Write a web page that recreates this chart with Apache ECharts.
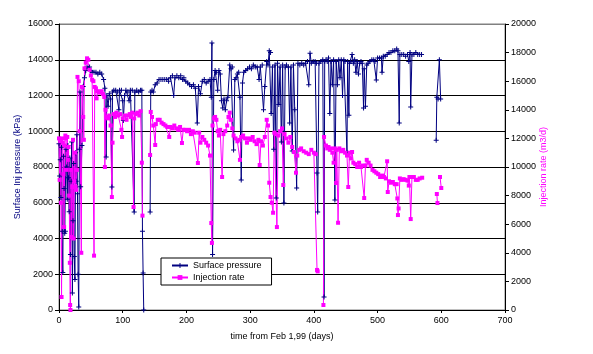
<!DOCTYPE html>
<html>
<head>
<meta charset="utf-8">
<script src="https://cdn.jsdelivr.net/npm/echarts@6/dist/echarts.min.js"></script>
<style>
  html, body { margin: 0; padding: 0; background: #fff; }
  #chart { width: 593px; height: 354px; }
</style>
</head>
<body>
<div id="chart"></div>
<script>
// days since Feb 1,99 -> surface injection pressure (kPa), null = gap in record
const surfacePressure = [
  [0, 9300], [1, 7500], [2, 8400], [3, 6300], [4, 9100], [5, 4400], [6, 2100], [7, 8600], [8, 6800], [9, 4300],
  [10, 4400], [11, 9000], [12, 8000], [13, 6200], [14, 9200], [15, 7400], [16, 5500], [17, 8500], [18, 3100], [19, 7200],
  [20, 9400], [21, 950], [22, 5000], [23, 8200], [24, 3000], [25, 1700], [26, 8800], [27, 7200], [28, 9800], [29, 6500],
  [30, 2000], [31, 170], [32, 9000], [33, 12200], [34, 6900], [36, 9200], [38, 12500], [40, 13000], [42, 13400], [44, 13600],
  [46, 13500], [48, 13600], [50, 13400], [52, 13300], [55, 13300], [58, 13300], [61, 13200], [64, 13300], [67, 13200], [70, 12900],
  [72, 12400], [74, 8560], [75, 12000], [77, 11400], [79, 12100], [81, 11800], [83, 6880], [84, 12200], [86, 12300], [89, 12300],
  [92, 12200], [94, 11200], [95, 12300], [98, 12300], [100, 11700], [101, 10600], [103, 12000], [105, 12300], [108, 12200], [110, 11700],
  [112, 12300], [115, 12300], [118, 5480], [119, 12200], [122, 12300], [125, 12200], [128, 12300], [130, 12300], [131, 4400], [132, 2070],
  [133, 0], [138, null], [143, 5480], [144, 12200], [146, 12300], [148, 12200], [151, 12600], [154, 12700], [157, 12900], [160, 12900],
  [163, 12900], [166, 12900], [169, 12900], [172, 12800], [175, 13000], [178, 13100], [180, 12000], [182, 13000], [185, 13100], [188, 13000],
  [191, 13100], [194, 12900], [196, 13000], [199, 12800], [202, 12700], [205, 12600], [208, 12500], [211, 12600], [214, 12400], [217, 10460],
  [219, 12500], [222, 12100], [225, 12800], [228, 12900], [231, 12700], [234, 12800], [237, 12900], [239, 11900], [240, 14940], [241, 3100],
  [243, 12900], [245, 13400], [247, 13300], [249, 12300], [251, 13400], [253, 13200], [255, 11700], [257, 11300], [259, 11800], [261, 11200],
  [263, 11700], [265, 11900], [268, 13700], [270, 13500], [272, 13600], [274, 8950], [276, 12900], [278, 13000], [280, 13200], [282, 13300],
  [284, 11900], [286, 7270], [288, 12700], [290, 13300], [293, 13400], [296, 13500], [299, 13600], [302, 13500], [305, 13700], [308, 13600],
  [311, 13600], [314, 12900], [316, 13600], [319, 13700], [321, 11200], [323, 12500], [326, 13900], [328, 13700], [330, 14500], [332, 14400],
  [333, 11000], [335, 13600], [337, 9000], [339, 13700], [341, 6270], [343, 13800], [345, 11500], [347, 13600], [349, 9400], [351, 13700],
  [353, 5990], [355, 13600], [357, 13700], [360, 13600], [362, 10460], [364, 13600], [366, 8900], [368, 13700], [370, 11200], [373, 6820],
  [375, 13800], [378, 13700], [381, 13800], [384, 13700], [387, 13800], [390, 13900], [392, 12600], [394, 14370], [396, 13800], [399, 13900],
  [402, 13900], [404, 13800], [405, 7660], [406, 5480], [408, 13800], [411, 13900], [414, 14000], [416, 730], [417, 13900], [419, 14000],
  [421, 13900], [423, 14100], [425, 11000], [427, 13900], [429, 12600], [431, 14000], [433, 6150], [435, 13900], [437, 12600], [439, 14000],
  [441, 13000], [443, 14000], [445, 12000], [447, 14000], [449, 13900], [452, 8800], [453, 13900], [455, 10900], [456, 13800], [458, 13900],
  [460, 14300], [462, 13800], [464, 14000], [466, 13300], [468, 13900], [470, 13200], [472, 13800], [474, 13900], [476, 13800], [478, 11300],
  [479, 13500], [481, 11400], [483, 13700], [485, 13800], [488, 13900], [491, 14000], [494, 14000], [496, 13900], [498, 12870], [500, 14100],
  [503, 14100], [506, 14100], [507, 13300], [509, 14200], [512, 14200], [515, 14300], [518, 14400], [521, 14400], [524, 14500], [527, 14500],
  [530, 14600], [532, 14500], [534, 10460], [535, 14300], [538, 14300], [541, 14300], [544, 14200], [547, 14300], [549, 13900], [551, 14400],
  [552, 11360], [554, 14300], [557, 14300], [560, 14400], [563, 14300], [566, 14300], [569, 14300], [580, null], [592, 9500], [593, 11900],
  [595, 11800], [597, 14000], [599, 11800]
]

// days since Feb 1,99 -> injection rate (m3/d)
const injectionRate = [
  [0, 12000], [1, 9100], [2, 11800], [3, 7500], [4, 910], [5, 12000], [6, 11700], [7, 9500], [8, 5800], [9, 11500],
  [10, 12200], [11, 12000], [12, 9800], [13, 12100], [14, 10500], [15, 11400], [16, 8000], [17, 3300], [17.5, 350], [18, 0],
  [19, 9800], [20, 5100], [21, 8600], [22, 11900], [23, 5000], [24, 9000], [25, 11000], [26, 8600], [27, 8400], [28, 9800],
  [29, 16300], [31, 16000], [33, 12500], [35, 4000], [36, 15600], [38, 13500], [39, 11900], [40, 16900], [42, 17300], [44, 17600],
  [46, 17500], [48, 16800], [50, 16400], [52, 16100], [54, 16000], [55, 3800], [56, 15600], [58, 15500], [59, 14800], [61, 15300],
  [64, 15200], [67, 15300], [69, 15100], [71, 14900], [72, 10000], [73, 14000], [75, 13500], [77, 13400], [79, 13600], [81, 12900],
  [83, 7900], [84, 11700], [86, 13700], [88, 13500], [90, 13800], [93, 13600], [96, 13700], [98, 12600], [99, 12100], [100, 13400],
  [103, 13600], [106, 13300], [108, 13600], [111, 13700], [113, 13500], [115, 13800], [117, 7200], [118, 13400], [120, 13700], [123, 13800],
  [126, 13600], [128, 13900], [130, 10300], [131, 6600], [137, null], [143, 10840], [144, 13850], [146, 13500], [148, 12900], [151, 11540],
  [152, 13000], [155, 13300], [158, 13300], [161, 13100], [164, 13000], [167, 12900], [170, 12800], [173, 12100], [175, 12800], [178, 12700],
  [181, 12900], [184, 12700], [187, 12600], [190, 12800], [193, 11680], [195, 12600], [198, 12600], [201, 12500], [204, 12600], [207, 12300],
  [210, 12500], [213, 12400], [218, 10280], [220, 12400], [222, 11700], [225, 12100], [228, 11900], [231, 11700], [234, 11500], [237, 10800],
  [239, 6080], [240, 4690], [241, 12900], [243, 13400], [245, 13500], [247, 13300], [249, 12500], [251, 12200], [253, 12600], [256, 9300],
  [258, 12300], [261, 12500], [264, 12900], [266, 13500], [268, 13800], [270, 13300], [272, 12700], [274, 12200], [277, 12000], [280, 11800],
  [283, 11900], [284, 10500], [286, 12100], [289, 12200], [292, 12000], [295, 11700], [298, 12000], [301, 11900], [304, 12100], [307, 11800],
  [310, 11600], [313, 11900], [315, 10140], [317, 11800], [320, 11500], [323, 12100], [326, 13300], [328, 12900], [330, 8900], [332, 7900],
  [334, 7500], [336, 6800], [338, 12400], [340, 12300], [342, 5800], [344, 12200], [347, 12500], [350, 12700], [352, 8740], [354, 12300],
  [357, 12000], [360, 11700], [363, 12100], [366, 11400], [369, 11050], [372, 9600], [374, 10800], [377, 11200], [380, 11300], [384, 11100],
  [388, 11000], [392, 10900], [396, 11200], [400, 11000], [403, 10900], [405, 2800], [406, 2700], [410, null], [415, 350], [416, 12100],
  [419, 11500], [421, 11300], [423, 11400], [425, 11200], [427, 11300], [429, 11000], [431, 10300], [433, 11300], [435, 8880], [436, 11200],
  [438, 6100], [440, 11300], [443, 11100], [446, 11200], [449, 11000], [452, 10800], [454, 8600], [456, 11000], [458, 10600], [460, 11050],
  [462, 10300], [465, 10200], [468, 10000], [471, 10300], [474, 10000], [477, 10100], [479, 7830], [481, 10100], [483, 10500], [486, 10300],
  [489, 10100], [492, 9800], [495, 9700], [498, 9600], [501, 9500], [504, 9300], [507, 9400], [510, 9300], [513, 9200], [515, 10400],
  [516, 8250], [518, 9000], [521, 8900], [524, 8950], [527, 8800], [530, 8800], [531, 7800], [532, 6640], [533, 7100], [535, 9200],
  [538, 9100], [541, 9150], [544, 9100], [547, 9050], [549, 8700], [550, 9300], [552, 6360], [554, 9300], [557, 9300], [560, 9100],
  [563, 9100], [566, 9200], [570, 9250], [580, null], [593, 8110], [594, 7480], [596, null], [598, 9300], [600, 8530]
]

const xTicks = { min: 0, max: 700, step: 100 }
const pressureTicks = { min: 0, max: 16000, step: 2000 }
const rateTicks = { min: 0, max: 20000, step: 2000 }

const font = 'Liberation Sans, Arial, sans-serif'
const plusSymbol = 'path://M4,0H6V4H10V6H6V10H4V6H0V4H4Z'
const plain = v => String(v)

const chart = echarts.init(document.getElementById('chart'), null, { renderer: 'canvas' })
chart.setOption({
  animation: false,
  backgroundColor: '#fff',
  textStyle: { fontFamily: font },
  grid: {
    left: 59,
    right: 88,
    top: 24,
    bottom: 44,
    show: true,
    borderColor: '#808080',
    borderWidth: 1
  },
  legend: {
    orient: 'vertical',
    left: 161,
    top: 258,
    backgroundColor: '#fff',
    borderColor: '#000',
    borderWidth: 1,
    padding: [3, 10, 3, 10],
    itemGap: 3,
    itemWidth: 16,
    itemHeight: 6,
    textStyle: { fontSize: 9, color: '#000', fontFamily: font },
    data: ['Surface pressure', 'Injection rate']
  },
  xAxis: {
    type: 'value',
    min: xTicks.min,
    max: xTicks.max,
    interval: xTicks.step,
    name: 'time from Feb 1,99 (days)',
    nameLocation: 'middle',
    nameGap: 22,
    nameTextStyle: { fontSize: 9, color: '#000' },
    axisLine: { lineStyle: { color: '#000', width: 1 } },
    axisTick: { length: 3, lineStyle: { color: '#000' } },
    axisLabel: { fontSize: 9, color: '#000', margin: 6, formatter: plain },
    splitLine: { show: false }
  },
  yAxis: [
    {
      type: 'value',
      position: 'left',
      min: pressureTicks.min,
      max: pressureTicks.max,
      interval: pressureTicks.step,
      name: 'Surface Inj pressure (kPa)',
      nameLocation: 'middle',
      nameRotate: 90,
      nameGap: 37,
      nameMoveOverlap: false,
      nameTextStyle: { fontSize: 9, color: '#000080' },
      axisLine: { show: true, lineStyle: { color: '#000', width: 1 } },
      axisTick: { show: true, length: 4, lineStyle: { color: '#000' } },
      axisLabel: { fontSize: 9, color: '#000', margin: 6, formatter: plain },
      splitLine: {
        show: true,
        lineStyle: {
          color: ['#000', '#000', '#000', '#000', '#000', '#000', '#000', '#000', '#808080'],
          width: 1
        }
      }
    },
    {
      type: 'value',
      position: 'right',
      min: rateTicks.min,
      max: rateTicks.max,
      interval: rateTicks.step,
      name: 'Injection rate (m3/d)',
      nameLocation: 'middle',
      nameRotate: 90,
      nameGap: 34,
      nameMoveOverlap: false,
      nameTextStyle: { fontSize: 9, color: '#FF00FF' },
      axisLine: { show: true, lineStyle: { color: '#000', width: 1 } },
      axisTick: { show: true, length: 4, lineStyle: { color: '#000' } },
      axisLabel: { fontSize: 9, color: '#000', margin: 6, formatter: plain },
      splitLine: { show: false }
    }
  ],
  series: [
    {
      name: 'Surface pressure',
      type: 'line',
      yAxisIndex: 0,
      data: surfacePressure,
      color: '#000080',
      lineStyle: { width: 1 },
      symbol: plusSymbol,
      symbolSize: 5,
      showSymbol: true,
      showAllSymbol: true,
      connectNulls: false
    },
    {
      name: 'Injection rate',
      type: 'line',
      yAxisIndex: 1,
      data: injectionRate,
      color: '#FF00FF',
      lineStyle: { width: 1 },
      symbol: 'rect',
      symbolSize: 4,
      showSymbol: true,
      showAllSymbol: true,
      connectNulls: false
    }
  ]
})
</script>
</body>
</html>
